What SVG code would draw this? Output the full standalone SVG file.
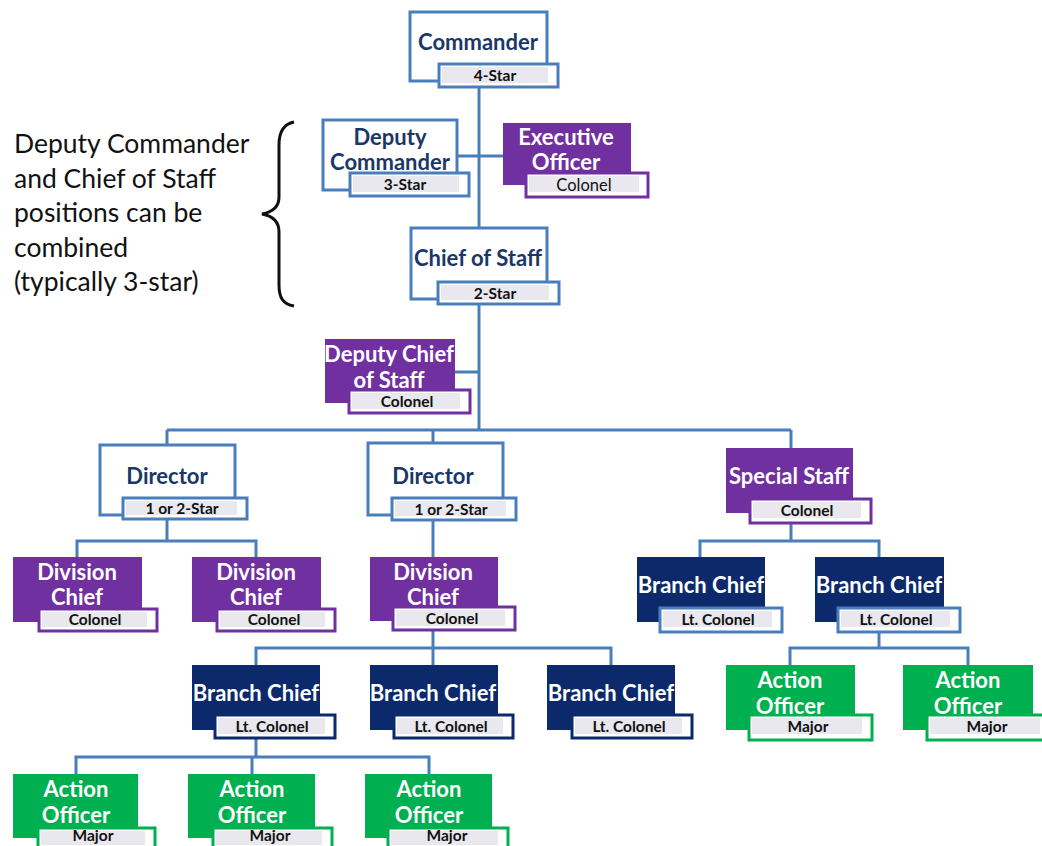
<svg xmlns="http://www.w3.org/2000/svg" width="1042" height="846" viewBox="0 0 1042 846">
  <style>
    .out { fill: #ffffff; stroke: #4a7ebb; stroke-width: 3; }
    .pur { fill: #7030a0; }
    .nav { fill: #0c2a6b; }
    .grn { fill: #00b050; }
    .bdg-b { fill: #ffffff; stroke: #4a7ebb; stroke-width: 3; }
    .bdg-p { fill: #ffffff; stroke: #7030a0; stroke-width: 3; }
    .bdg-n { fill: #ffffff; stroke: #0c2a6b; stroke-width: 3; }
    .bdg-g { fill: #ffffff; stroke: #00b050; stroke-width: 3; }
    .band { fill: #e8e8ee; }
    .t { font-family: Lato, "Open Sans", "Liberation Sans", sans-serif; font-weight: 700; font-size: 22px; text-anchor: middle; }
    .tn { fill: #1a3767; }
    .tw { fill: #ffffff; }
    .s { font-family: Lato, "Open Sans", "Liberation Sans", sans-serif; font-weight: 700; font-size: 15.5px; fill: #111111; text-anchor: middle; }
    .sr { font-weight: 400; font-size: 16.5px; }
    .note { font-family: Lato, "Open Sans", "Liberation Sans", sans-serif; font-size: 26.5px; fill: #111111; }
    .wire { fill: none; stroke: #4a7ebb; stroke-width: 3; }
  </style>

  <!-- side note with brace -->
  <g id="note">
    <text class="note" x="14" y="153">Deputy Commander</text>
    <text class="note" x="14" y="188">and Chief of Staff</text>
    <text class="note" x="14" y="222">positions can be</text>
    <text class="note" x="14" y="257">combined</text>
    <text class="note" x="14" y="291">(typically 3-star)</text>
    <path d="M294 122 C283 124 279 132 279 145 L279 197 C279 207 273 212 262 214 C273 216 279 222 279 232 L279 285 C279 298 283 304 294 306" fill="none" stroke="#111111" stroke-width="3"/>
  </g>

  <!-- connectors -->
  <g id="connectors" class="wire">
    <path d="M479 87 V228"/>
    <path d="M457 156 H503"/>
    <path d="M479 304 V430"/>
    <path d="M455 372 H479"/>
    <path d="M167 430 H791"/>
    <path d="M167 430 V445 M433 430 V443 M791 430 V448"/>
    <path d="M167 518 V541 M77 557 V541 H256 V557"/>
    <path d="M433 520 V557"/>
    <path d="M791 523 V541 M700 557 V541 H879 V557"/>
    <path d="M433 630 V648 M256 665 V648 H611 V665 M433 648 V665"/>
    <path d="M879 632 V648 M790 665 V648 H968 V665"/>
    <path d="M256 738 V757 M76 774 V757 H429 V774 M252 757 V774"/>
  </g>

  <g id="commander">
    <rect class="out" x="410" y="12" width="137" height="69"/>
    <rect class="bdg-b" x="439" y="64" width="119" height="23"/>
    <rect class="band" x="442" y="67" width="106" height="16"/>
    <text class="t tn" x="478" y="50">Commander</text>
    <text class="s" x="495" y="81">4-Star</text>
  </g>

  <g id="deputy-commander">
    <rect class="out" x="323" y="120" width="134" height="70"/>
    <rect class="bdg-b" x="350" y="173" width="119" height="23"/>
    <rect class="band" x="353" y="176" width="106" height="16"/>
    <text class="t tn" x="390" y="145">Deputy</text>
    <text class="t tn" x="390" y="170">Commander</text>
    <text class="s" x="405" y="190">3-Star</text>
  </g>

  <g id="executive-officer">
    <rect class="pur" x="503" y="123" width="128" height="62"/>
    <rect class="bdg-p" x="526" y="173" width="122" height="24"/>
    <rect class="band" x="529" y="176" width="110" height="16"/>
    <text class="t tw" x="566" y="145">Executive</text>
    <text class="t tw" x="566" y="170">Officer</text>
    <text class="s sr" x="584" y="191">Colonel</text>
  </g>

  <g id="chief-of-staff">
    <rect class="out" x="411" y="228" width="136" height="71"/>
    <rect class="bdg-b" x="438" y="282" width="121" height="22"/>
    <rect class="band" x="441" y="285" width="108" height="15"/>
    <text class="t tn" x="478" y="266">Chief of Staff</text>
    <text class="s" x="495" y="299">2-Star</text>
  </g>

  <g id="deputy-chief-of-staff">
    <rect class="pur" x="325" y="339" width="130" height="64"/>
    <rect class="bdg-p" x="349" y="390" width="121" height="23"/>
    <rect class="band" x="352" y="393" width="108" height="16"/>
    <text class="t tw" x="389" y="362">Deputy Chief</text>
    <text class="t tw" x="389" y="388">of Staff</text>
    <text class="s" x="407" y="407">Colonel</text>
  </g>

  <g id="director-1">
    <rect class="out" x="100" y="445" width="135" height="70"/>
    <rect class="bdg-b" x="123" y="498" width="124" height="21"/>
    <rect class="band" x="126" y="501" width="111" height="14"/>
    <text class="t tn" x="167" y="484">Director</text>
    <text class="s" x="182" y="514">1 or 2-Star</text>
  </g>

  <g id="director-2">
    <rect class="out" x="368" y="443" width="135" height="72"/>
    <rect class="bdg-b" x="392" y="498" width="124" height="22"/>
    <rect class="band" x="395" y="501" width="111" height="15"/>
    <text class="t tn" x="433" y="484">Director</text>
    <text class="s" x="451" y="515">1 or 2-Star</text>
  </g>

  <g id="special-staff">
    <rect class="pur" x="726" y="448" width="127" height="65"/>
    <rect class="bdg-p" x="750" y="499" width="121" height="24"/>
    <rect class="band" x="753" y="502" width="108" height="16"/>
    <text class="t tw" x="789" y="484">Special Staff</text>
    <text class="s" x="807" y="516">Colonel</text>
  </g>

  <g id="division-chief-1">
    <rect class="pur" x="13" y="557" width="129" height="65"/>
    <rect class="bdg-p" x="39" y="609" width="118" height="22"/>
    <rect class="band" x="42" y="612" width="105" height="15"/>
    <text class="t tw" x="77" y="580">Division</text>
    <text class="t tw" x="77" y="605">Chief</text>
    <text class="s" x="95" y="625">Colonel</text>
  </g>

  <g id="division-chief-2">
    <rect class="pur" x="192" y="557" width="129" height="65"/>
    <rect class="bdg-p" x="217" y="609" width="118" height="22"/>
    <rect class="band" x="220" y="612" width="105" height="15"/>
    <text class="t tw" x="256" y="580">Division</text>
    <text class="t tw" x="256" y="605">Chief</text>
    <text class="s" x="274" y="625">Colonel</text>
  </g>

  <g id="division-chief-3">
    <rect class="pur" x="370" y="557" width="128" height="64"/>
    <rect class="bdg-p" x="393" y="607" width="122" height="23"/>
    <rect class="band" x="396" y="610" width="109" height="16"/>
    <text class="t tw" x="433" y="580">Division</text>
    <text class="t tw" x="433" y="605">Chief</text>
    <text class="s" x="452" y="624">Colonel</text>
  </g>

  <g id="branch-chief-s1">
    <rect class="nav" x="637" y="557" width="128" height="65"/>
    <rect class="bdg-b" x="660" y="608" width="122" height="24"/>
    <rect class="band" x="663" y="611" width="109" height="16"/>
    <text class="t tw" x="701" y="593">Branch Chief</text>
    <text class="s" x="718" y="625">Lt. Colonel</text>
  </g>

  <g id="branch-chief-s2">
    <rect class="nav" x="815" y="557" width="129" height="65"/>
    <rect class="bdg-b" x="838" y="608" width="122" height="24"/>
    <rect class="band" x="841" y="611" width="109" height="16"/>
    <text class="t tw" x="879" y="593">Branch Chief</text>
    <text class="s" x="896" y="625">Lt. Colonel</text>
  </g>

  <g id="branch-chief-1">
    <rect class="nav" x="192" y="665" width="128" height="65"/>
    <rect class="bdg-n" x="215" y="715" width="120" height="23"/>
    <rect class="band" x="218" y="718" width="107" height="16"/>
    <text class="t tw" x="256" y="701">Branch Chief</text>
    <text class="s" x="272" y="732">Lt. Colonel</text>
  </g>

  <g id="branch-chief-2">
    <rect class="nav" x="370" y="665" width="128" height="65"/>
    <rect class="bdg-n" x="394" y="715" width="119" height="23"/>
    <rect class="band" x="397" y="718" width="106" height="16"/>
    <text class="t tw" x="433" y="701">Branch Chief</text>
    <text class="s" x="451" y="732">Lt. Colonel</text>
  </g>

  <g id="branch-chief-3">
    <rect class="nav" x="547" y="665" width="128" height="65"/>
    <rect class="bdg-n" x="572" y="715" width="120" height="23"/>
    <rect class="band" x="575" y="718" width="107" height="16"/>
    <text class="t tw" x="611" y="701">Branch Chief</text>
    <text class="s" x="629" y="732">Lt. Colonel</text>
  </g>

  <g id="action-officer-s1">
    <rect class="grn" x="726" y="665" width="129" height="65"/>
    <rect class="bdg-g" x="749" y="715" width="123" height="25"/>
    <rect class="band" x="752" y="718" width="110" height="16"/>
    <text class="t tw" x="790" y="688">Action</text>
    <text class="t tw" x="790" y="714">Officer</text>
    <text class="s" x="808" y="732">Major</text>
  </g>

  <g id="action-officer-s2">
    <rect class="grn" x="903" y="665" width="130" height="65"/>
    <rect class="bdg-g" x="927" y="715" width="123" height="25"/>
    <rect class="band" x="930" y="718" width="110" height="16"/>
    <text class="t tw" x="968" y="688">Action</text>
    <text class="t tw" x="968" y="714">Officer</text>
    <text class="s" x="987" y="732">Major</text>
  </g>

  <g id="action-officer-1">
    <rect class="grn" x="13" y="774" width="125" height="64"/>
    <rect class="bdg-g" x="38" y="828" width="117" height="24"/>
    <rect class="band" x="41" y="831" width="104" height="14"/>
    <text class="t tw" x="76" y="797">Action</text>
    <text class="t tw" x="76" y="823">Officer</text>
    <text class="s" x="93" y="841">Major</text>
  </g>

  <g id="action-officer-2">
    <rect class="grn" x="188" y="774" width="127" height="64"/>
    <rect class="bdg-g" x="213" y="828" width="119" height="24"/>
    <rect class="band" x="216" y="831" width="106" height="14"/>
    <text class="t tw" x="252" y="797">Action</text>
    <text class="t tw" x="252" y="823">Officer</text>
    <text class="s" x="270" y="841">Major</text>
  </g>

  <g id="action-officer-3">
    <rect class="grn" x="365" y="774" width="127" height="64"/>
    <rect class="bdg-g" x="388" y="828" width="120" height="24"/>
    <rect class="band" x="391" y="831" width="107" height="14"/>
    <text class="t tw" x="429" y="797">Action</text>
    <text class="t tw" x="429" y="823">Officer</text>
    <text class="s" x="447" y="841">Major</text>
  </g>
</svg>
